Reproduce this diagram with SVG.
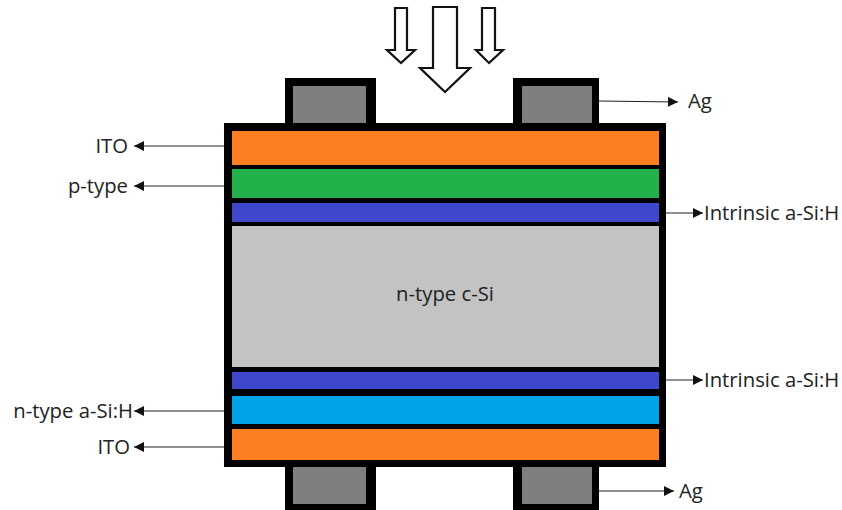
<svg xmlns="http://www.w3.org/2000/svg" width="842" height="510" viewBox="0 0 842 510">
<style>
.lbl{font-family:"Open Sans","Liberation Sans",sans-serif;font-size:20.3px;fill:#222}
.ln{stroke:#222;stroke-width:1.2;fill:none}
.light{fill:#fff;stroke:#111;stroke-width:2.2;stroke-linejoin:miter}
</style>
<defs>
<marker id="ah" viewBox="0 0 10 10" refX="10" refY="5" markerWidth="12" markerHeight="10" markerUnits="userSpaceOnUse" orient="auto">
<path d="M0,0 L10,5 L0,10 Z" fill="#111"/>
</marker>
</defs>
<rect width="842" height="510" fill="#fff"/>
<g id="light">
<path class="light" d="M395,8 H407 V50 H415 L401,63 L387,50 H395 Z"/>
<path class="light" d="M433,7 H457 V68 H470 L445,92 L420,68 H433 Z"/>
<path class="light" d="M482,8 H495 V50 H503 L489,63 L476,50 H482 Z"/>
</g>
<g id="ag-top-left"><rect x="285" y="78" width="91" height="50" fill="#000"/><rect x="293" y="86" width="73" height="37" fill="#7f7f7f"/></g>
<g id="ag-top-right"><rect x="513" y="78" width="86" height="50" fill="#000"/><rect x="522" y="86" width="70" height="37" fill="#7f7f7f"/></g>
<g id="ag-bot-left"><rect x="285" y="462" width="91" height="48" fill="#000"/><rect x="293" y="467" width="73" height="37" fill="#7f7f7f"/></g>
<g id="ag-bot-right"><rect x="513" y="462" width="86" height="48" fill="#000"/><rect x="522" y="467" width="70" height="37" fill="#7f7f7f"/></g>
<g id="stack">
<rect x="224" y="123" width="442" height="344" fill="#000"/>
<rect id="ito-top" x="232" y="131" width="427" height="34" fill="#fd7f23"/>
<rect id="p-type" x="232" y="169" width="427" height="29" fill="#23b14c"/>
<rect id="i-top" x="232" y="203" width="427" height="19" fill="#3f48cc"/>
<rect id="csi" x="232" y="226" width="427" height="141" fill="#c3c3c3"/>
<rect id="i-bot" x="232" y="372" width="427" height="17" fill="#3f48cc"/>
<rect id="n-type" x="232" y="396" width="427" height="28" fill="#00a2e8"/>
<rect id="ito-bot" x="232" y="429" width="427" height="31" fill="#fd7f23"/>
<text class="lbl" x="445" y="301" text-anchor="middle">n-type c-Si</text>
</g>
<g id="connectors">
<line class="ln" x1="224" y1="146" x2="134" y2="146" marker-end="url(#ah)"/>
<line class="ln" x1="224" y1="186" x2="134" y2="186" marker-end="url(#ah)"/>
<line class="ln" x1="666" y1="213" x2="703" y2="213" marker-end="url(#ah)"/>
<line class="ln" x1="666" y1="380" x2="703" y2="380" marker-end="url(#ah)"/>
<line class="ln" x1="224" y1="411" x2="134" y2="411" marker-end="url(#ah)"/>
<line class="ln" x1="224" y1="447" x2="134" y2="447" marker-end="url(#ah)"/>
<line class="ln" x1="599" y1="101" x2="678" y2="102" marker-end="url(#ah)"/>
<line class="ln" x1="599" y1="491" x2="674" y2="491" marker-end="url(#ah)"/>
</g>
<g id="labels">
<text class="lbl" x="128" y="153" text-anchor="end">ITO</text>
<text class="lbl" x="128" y="193" text-anchor="end">p-type</text>
<text class="lbl" x="704" y="220">Intrinsic a-Si:H</text>
<text class="lbl" x="704" y="387">Intrinsic a-Si:H</text>
<text class="lbl" x="133" y="418" text-anchor="end">n-type a-Si:H</text>
<text class="lbl" x="130" y="454" text-anchor="end">ITO</text>
<text class="lbl" x="688" y="108">Ag</text>
<text class="lbl" x="679" y="498">Ag</text>
</g>
</svg>
